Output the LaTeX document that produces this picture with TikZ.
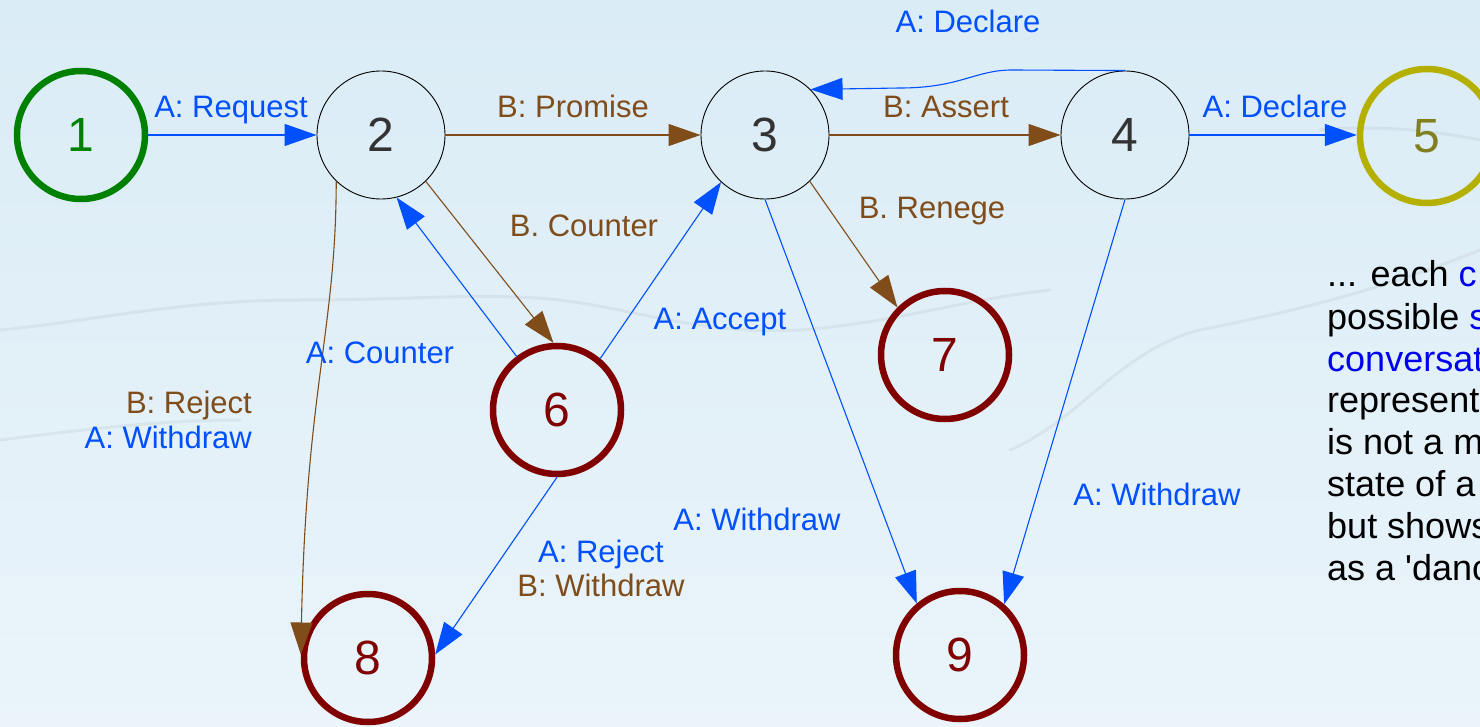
\documentclass[tikz,border=0pt]{standalone}
\usepackage{fontspec}
\setmainfont{Liberation Sans}
\usetikzlibrary{arrows.meta}
\definecolor{ablue}{RGB}{0,80,255}
\definecolor{tblue}{RGB}{0,0,240}
\definecolor{bbrown}{RGB}{128,77,26}
\definecolor{sgreen}{RGB}{0,128,0}
\definecolor{solive}{RGB}{181,176,0}
\definecolor{tolive}{RGB}{128,128,32}
\definecolor{sred}{RGB}{128,0,0}
\definecolor{sgray}{RGB}{51,51,51}
\definecolor{bgtop}{RGB}{218,236,246}
\definecolor{bgbot}{RGB}{234,244,250}
\font\rtfnt="Liberation Sans" at 36pt
\begin{document}
\begin{tikzpicture}[x=1pt,y=-1pt,
  state/.style={circle, minimum size=128pt, inner sep=0pt, font=\fontsize{48}{48}\selectfont},
  plainst/.style={state, draw=black, line width=0.9pt, text=sgray},
  startst/.style={state, draw=sgreen, line width=6.5pt, text=sgreen},
  donest/.style={state, draw=solive, line width=6.5pt, text=tolive, minimum size=134pt},
  failst/.style={state, draw=sred, line width=6.5pt, text=sred},
  arr/.style={-{Triangle[length=32pt,width=22pt]}, line width=1.1pt},
  aedge/.style={arr, draw=ablue},
  bedge/.style={arr, draw=bbrown},
  lbl/.style={font=\fontsize{31}{35}\selectfont, anchor=base, inner sep=0pt},
  albl/.style={lbl, text=ablue},
  blbl/.style={lbl, text=bbrown},
  rt/.style={font=\rtfnt, anchor=base west, inner sep=0pt, text=black},
  streak/.style={line width=3pt, draw=gray, opacity=0.10, line cap=round}
]
\useasboundingbox (0,0) rectangle (1480,727);
\clip (0,0) rectangle (1480,727);
\shade[top color=bgtop, bottom color=bgbot] (0,0) rectangle (1480,727);
% background texture streaks
\draw[streak] (0,330) .. controls (100,320) and (180,300) .. (300,300) .. controls (420,300) and (480,292) .. (560,300) .. controls (640,310) and (700,335) .. (800,330) .. controls (900,322) and (960,300) .. (1050,290);
\draw[streak] (1320,130) .. controls (1380,125) and (1430,130) .. (1480,140);
\draw[streak] (1480,250) .. controls (1380,290) and (1300,310) .. (1200,330) .. controls (1120,350) and (1080,420) .. (1010,450);
\draw[streak] (0,440) .. controls (80,430) and (160,420) .. (240,420);

% states
\node[startst] (n1) at (81,135) {1};
\node[plainst] (n2) at (381,135) {2};
\node[plainst] (n3) at (765,135) {3};
\node[plainst] (n4) at (1125,135) {4};
\node[donest] (n5) at (1427,136) {5};
\node[failst] (n6) at (557,410) {6};
\node[failst] (n7) at (945,355) {7};
\node[failst] (n8) at (368,658) {8};
\node[failst] (n9) at (960,655) {9};

% transitions
\draw[aedge] (n1) -- (n2);
\draw[bedge] (n2) -- (n3);
\draw[bedge] (n3) -- (n4);
\draw[aedge] (n4.east) -- (n5.west |- n4.east);
\draw[aedge] (n4.north) -- (1012,70) .. controls (975,70) and (960,88) .. (900,88) -- (n3.45);
\draw[bedge] (n2.-46) -- (n6.93);
\draw[aedge] (n6.127) -- (n2.-76);
\draw[aedge] (n6.50) -- (n3.-133);
\draw[bedge] (n3.-46) -- (n7.135);
\draw[aedge] (n3.-90) -- (n9.130);
\draw[aedge] (n4.-90) -- (n9.49);
\draw[aedge] (n6.-90) -- (n8.3);
\draw[bedge] (n2.-134) .. controls (336,330) and (306,390) .. (n8.177);

% labels
\node[albl] (lreq) at (231,118) {A: Request};
\node[blbl] (lprom) at (573,118) {B: Promise};
\node[blbl] (lass) at (946,118) {B: Assert};
\node[albl] (ldec1) at (1275,118) {A: Declare};
\node[albl] (ldec2) at (968,33) {A: Declare};
\node[blbl] (lbcnt) at (584,237) {B. Counter};
\node[albl] (lacnt) at (380,363) {A: Counter};
\node[albl] (lacc) at (720,329) {A: Accept};
\node[blbl] (lren) at (932,219) {B. Renege};
\node[blbl, anchor=base east] (lrej) at (252,413) {B: Reject};
\node[albl, anchor=base east] (lwd1) at (252,448) {A: Withdraw};
\node[albl] (lwd2) at (757,530) {A: Withdraw};
\node[albl] (lwd3) at (1157,505) {A: Withdraw};
\node[albl] (larej) at (601,562) {A: Reject};
\node[blbl] (lbwd) at (601,596) {B: Withdraw};

% side text (cut off at the right edge, as in the reference)
\node[rt] (r1) at (1327,287) {... each \textcolor{tblue}{c}};
\node[rt] (r2) at (1327,329) {possible \textcolor{tblue}{s}};
\node[rt, text=tblue] (r3) at (1327,371) {conversat};
\node[rt] (r4) at (1327,412) {represent};
\node[rt] (r5) at (1327,454) {is not a m};
\node[rt] (r6) at (1327,496) {state of a};
\node[rt] (r7) at (1327,538) {but shows};
\node[rt] (r8) at (1327,580) {as a 'danc};
\end{tikzpicture}
\end{document}
